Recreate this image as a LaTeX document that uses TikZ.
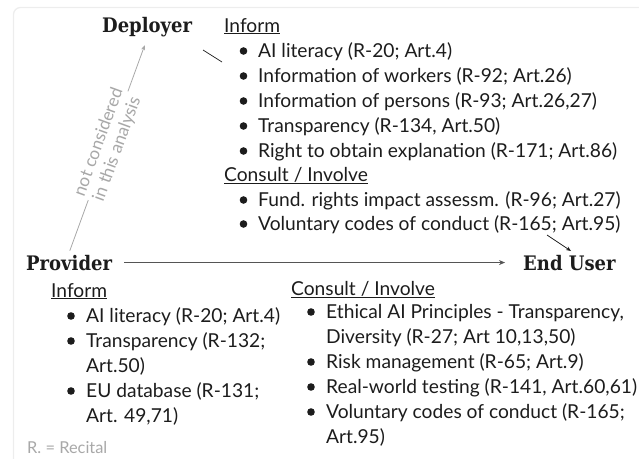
\documentclass[tikz,border=0pt]{standalone}
\usepackage{fontspec}
\setmainfont{Lato}
\newfontfamily\slab{DejaVu Serif Condensed}[BoldFont={* Bold}]
\usetikzlibrary{arrows.meta}
\definecolor{txt}{HTML}{1C1C1C}
\definecolor{lightgr}{HTML}{A8A8A8}
\definecolor{framegr}{HTML}{EDEDED}
\definecolor{arrowgr}{HTML}{555555}
\tikzset{
  title/.style={font=\slab\bfseries\fontsize{20}{24}\selectfont, text=txt, inner sep=2pt},
  body/.style={font=\fontsize{19.2}{23}\selectfont, text=txt, inner sep=0pt, anchor=base west},
  head/.style={body},
  bul/.style={fill=txt},
  note/.style={font=\fontsize{16.4}{19}\selectfont, text=lightgr, inner sep=0pt, anchor=base west},
}
\newcommand{\ul}[1]{\underline{#1}}
\begin{document}
\begin{tikzpicture}[x=1pt,y=-1pt]
\useasboundingbox (0,0) rectangle (639,458);
\draw[framegr, line width=1.3pt, rounded corners=7pt] (13.5,7.5) rectangle (720,540);

% titles
\node[title, anchor=base west] (depl) at (100,32) {Deployer};
\node[title, anchor=base west] (prov) at (24,270) {Provider};
\node[title, anchor=base west] (eu) at (521,270) {End User};

% deployer lists
\node[head] (dinf) at (224,32) {\ul{Inform}};
\foreach \t/\y [count=\i] in {AI literacy (R-20; Art.4)/57,
  Information of workers (R-92; Art.26)/82,
  Information of persons (R-93; Art.26{,}27)/107,
  Transparency (R-134{,} Art.50)/132,
  Right to obtain explanation (R-171; Art.86)/157}{
  \node[body] (di\i) at (258,\y) {\t};
  \fill[bul] (243.5,\y-6) circle (3.8);
}
\node[head] (dcon) at (224,181) {\ul{Consult / Involve}};
\foreach \t/\y [count=\i] in {Fund. rights impact assessm. (R-96; Art.27)/206,
  Voluntary codes of conduct (R-165; Art.95)/230}{
  \node[body] (dc\i) at (258,\y) {\t};
  \fill[bul] (243.5,\y-6) circle (3.8);
}

% provider inform
\node[head] (pinf) at (51,297) {\ul{Inform}};
\node[body] (pi1) at (86,322) {AI literacy (R-20; Art.4)};
\node[body] (pi2) at (86,347) {Transparency (R-132;};
\node[body] (pi2b) at (86,372) {Art.50)};
\node[body] (pi3) at (86,397) {EU database (R-131;};
\node[body] (pi3b) at (86,422) {Art. 49,71)};
\foreach \y in {322,347,397}{\fill[bul] (71,\y-6) circle (3.8);}

% provider consult
\node[head] (pcon) at (291,295) {\ul{Consult / Involve}};
\node[body] (pc1) at (326,318) {Ethical AI Principles - Transparency,};
\node[body] (pc1b) at (326,343) {Diversity (R-27; Art 10,13,50)};
\node[body] (pc2) at (326,368) {Risk management (R-65; Art.9)};
\node[body] (pc3) at (326,393) {Real-world testing (R-141, Art.60,61)};
\node[body] (pc4) at (326,418) {Voluntary codes of conduct (R-165;};
\node[body] (pc4b) at (326,443) {Art.95)};
\foreach \y in {318,368,393,418}{\fill[bul] (311,\y-6) circle (3.8);}

\node[note] (rec) at (27,453) {R. = Recital};

% connectors
\draw[arrowgr, line width=0.8pt, -{Stealth[length=6pt,width=5pt]}, shorten <=10pt, shorten >=16pt] (prov) -- (eu);
\draw[lightgr, line width=0.8pt, -{Stealth[length=5pt,width=4pt]}, shorten <=2pt, shorten >=7pt] (prov.north) -- (depl.south)
  node[midway, sloped, fill=white, inner sep=1pt, align=center, font=\fontsize{17.4}{19.5}\selectfont, text=lightgr] (nc) {not considered\\in this analysis};
\coordinate (l1a) at (203,50);
\coordinate (l1b) at (222,62);
\draw[txt, line width=0.7pt] (l1a) -- (l1b);
\coordinate (l2a) at (547,235);
\coordinate (l2b) at (571,251);
\draw[txt, line width=0.7pt, -{Stealth[length=5pt,width=4pt]}] (l2a) -- (l2b);
\end{tikzpicture}
\end{document}
